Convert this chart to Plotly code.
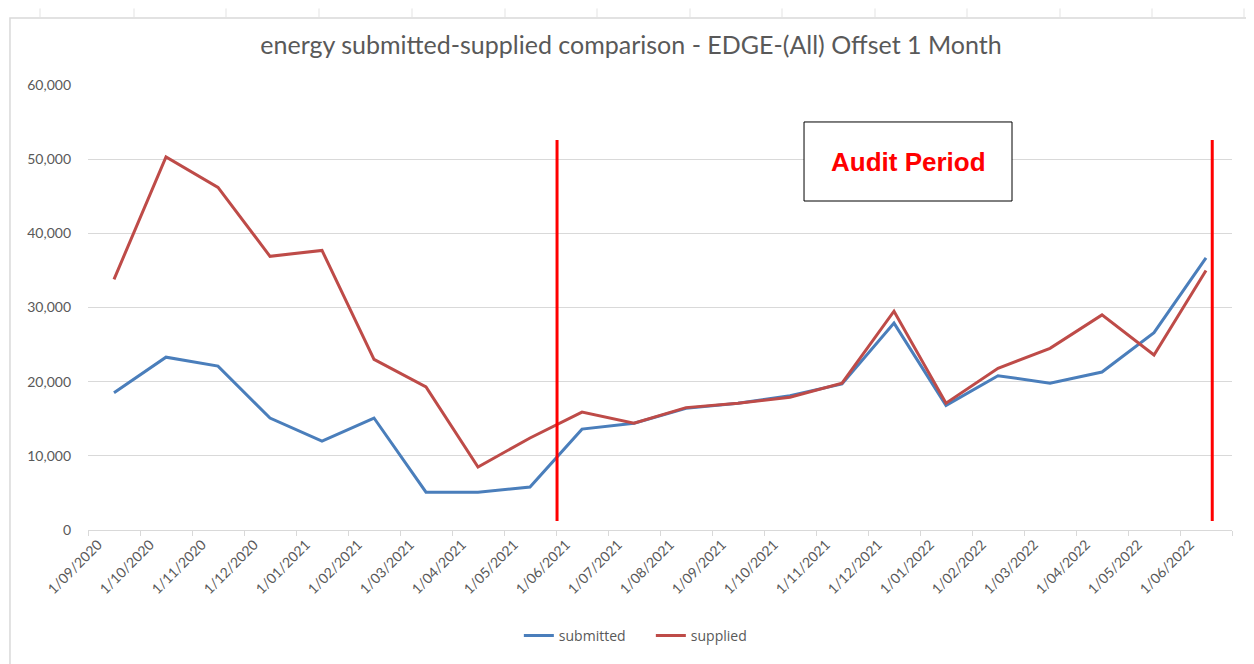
import plotly.graph_objects as go

months = ["1/09/2020", "1/10/2020", "1/11/2020", "1/12/2020", "1/01/2021", "1/02/2021",
          "1/03/2021", "1/04/2021", "1/05/2021", "1/06/2021", "1/07/2021", "1/08/2021",
          "1/09/2021", "1/10/2021", "1/11/2021", "1/12/2021", "1/01/2022", "1/02/2022",
          "1/03/2022", "1/04/2022", "1/05/2022", "1/06/2022"]
submitted = [18500, 23300, 22100, 15100, 12000, 15100, 5100, 5100, 5800, 13600, 14400,
             16400, 17100, 18100, 19700, 27900, 16800, 20800, 19800, 21300, 26600, 36700]
supplied = [33800, 50300, 46200, 36900, 37700, 23000, 19300, 8500, 12400, 15900, 14400,
            16500, 17100, 17900, 19800, 29500, 17100, 21800, 24500, 29000, 23600, 35000]
y_ticks = [0, 10000, 20000, 30000, 40000, 50000, 60000]

fig = go.Figure()
fig.add_trace(go.Scatter(x=months, y=submitted, mode="lines", name="submitted",
                         line=dict(color="#4A7EBB", width=3)))
fig.add_trace(go.Scatter(x=months, y=supplied, mode="lines", name="supplied",
                         line=dict(color="#BE4B48", width=3)))

grey = "#595959"
# page has an 8px body margin; figure is sized/offset to compensate
fig.update_layout(
    width=1246, height=656,
    margin=dict(l=80, r=22, t=77, b=134),
    paper_bgcolor="white", plot_bgcolor="white",
    title=dict(text="energy submitted-supplied comparison - EDGE-(All) Offset 1 Month",
               x=0.5, xanchor="center", y=0.9436, yanchor="middle",
               font=dict(family="Lato", size=25, color=grey)),
    font=dict(family="Lato", color=grey),
    showlegend=True,
    legend=dict(orientation="h", x=0.492, xanchor="center", y=-0.238, yanchor="middle",
                entrywidth=87, font=dict(family="Open Sans", size=14, color=grey)),
    xaxis=dict(type="category", showgrid=False, showline=True, linecolor="#D9D9D9",
               linewidth=1, ticks="outside", tickson="boundaries", ticklen=5,
               tickcolor="#D9D9D9", tickangle=-45, tickfont=dict(size=14, color=grey),
               ticklabelshift=-16, range=[-0.5, 21.5]),
    yaxis=dict(range=[0, 60000], tickvals=y_ticks, tickformat=",d", showgrid=True,
               gridcolor="#D9D9D9", gridwidth=1, zeroline=False, showline=False,
               tickfont=dict(size=14, color=grey), ticks="", ticklabelstandoff=16),
)

shapes = [
    # outer frame of the screenshot
    dict(type="rect", xref="paper", yref="paper", x0=-0.0682, x1=1.0175, y0=-0.35, y1=1.1506,
         line=dict(color="#D9D9D9", width=1.5), layer="below"),
    # audit period markers
    dict(type="line", xref="x", yref="y", x0=8.52, x1=8.52, y0=1200, y1=52600,
         line=dict(color="#FF0000", width=3)),
    dict(type="line", xref="x", yref="y", x0=21.12, x1=21.12, y0=1200, y1=52600,
         line=dict(color="#FF0000", width=3)),
    # audit period box
    dict(type="rect", xref="paper", yref="paper", x0=0.6259, x1=0.8077, y0=0.7393, y1=0.9169,
         line=dict(color="black", width=1), fillcolor="white"),
]
# small tick stubs of the chart visible behind, at the very top
for px in [40, 134, 226, 319, 412, 505, 597, 690, 782, 875, 967, 1060, 1152, 1244]:
    xp = (px - 88) / 1144
    shapes.append(dict(type="line", xref="paper", yref="paper", x0=xp, x1=xp,
                       y0=1.1506, y1=1.172, line=dict(color="#E3E3E3", width=1),
                       layer="below"))
fig.update_layout(shapes=shapes)
fig.add_annotation(xref="paper", yref="paper", x=0.7168, y=0.828, xanchor="center",
                   yanchor="middle", text="<b>Audit Period</b>", showarrow=False,
                   font=dict(family="Liberation Sans", size=26, color="#FF0000"))

fig.write_html("out.html")
